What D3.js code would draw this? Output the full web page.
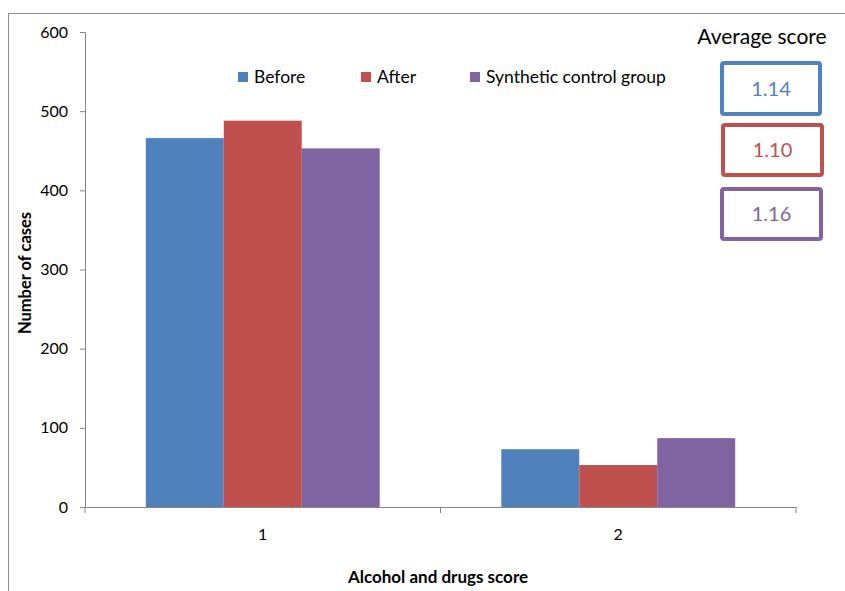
<!DOCTYPE html>
<html><head><meta charset="utf-8">
<script src="https://cdn.jsdelivr.net/npm/d3@7"></script>
<style>body{margin:0;background:#fff}svg{display:block}text{font-family:Lato,"Open Sans",sans-serif}</style>
</head><body><svg id="c" width="845" height="591"></svg>
<script>
const categories = ["1", "2"];
const seriesNames = ["Before", "After", "Synthetic control group"];
const before = [466, 73];
const after = [488, 53];
const synthetic = [453, 87];
const yTicks = [0, 100, 200, 300, 400, 500, 600];
const averageScores = ["1.14", "1.10", "1.16"];
const colors = ["#4F81BD", "#C0504D", "#8064A2"];

const series = [before, after, synthetic];
const svg = d3.select("#c");
// outer frame
svg.append("rect").attr("x", 8.5).attr("y", 13.5).attr("width", 850).attr("height", 600)
  .attr("fill", "none").attr("stroke", "#8c8c8c").attr("stroke-width", 1);

const x0 = d3.scaleBand().domain(categories).range([85, 796]).paddingInner(0).paddingOuter(0);
const x1 = d3.scaleBand().domain(seriesNames).range([0, x0.bandwidth()]).paddingInner(0).paddingOuter(0.78);
const y = d3.scaleLinear().domain([0, 600]).range([507, 32]);

// bars
seriesNames.forEach((s, si) => {
  svg.append("g").selectAll("rect").data(categories).join("rect")
    .attr("x", (c) => x0(c) + x1(s))
    .attr("y", (c, i) => y(series[si][i]))
    .attr("width", x1.bandwidth())
    .attr("height", (c, i) => y(0) - y(series[si][i]))
    .attr("fill", colors[si]);
});

// y axis
const ya = svg.append("g").attr("transform", "translate(85,0)")
  .call(d3.axisLeft(y).tickValues(yTicks).tickSize(5).tickPadding(12));
ya.select(".domain").attr("stroke", "#868686");
ya.selectAll(".tick line").attr("stroke", "#868686");
ya.selectAll(".tick text").attr("font-size", 16).attr("fill", "#000").attr("font-family", "Lato, 'Open Sans', sans-serif");

// x axis
const xa = svg.append("g").attr("transform", "translate(0,507)")
  .call(d3.axisBottom(x0).tickSize(0).tickPadding(22));
xa.select(".domain").attr("stroke", "#868686");
xa.selectAll(".tick text").attr("font-size", 16).attr("fill", "#000").attr("font-family", "Lato, 'Open Sans', sans-serif");
// category separator ticks
const sepTicks = [85, x0("2"), 796];
svg.append("g").selectAll("line").data(sepTicks).join("line")
  .attr("x1", (d) => d).attr("x2", (d) => d).attr("y1", 507).attr("y2", 513)
  .attr("stroke", "#868686");

// axis titles
svg.append("text").attr("x", 438).attr("y", 583).attr("text-anchor", "middle")
  .attr("font-size", 17).attr("font-weight", "bold").text("Alcohol and drugs score");
svg.append("text").attr("transform", "translate(31,273) rotate(-90)").attr("text-anchor", "middle")
  .attr("font-size", 16.5).attr("font-weight", "bold").text("Number of cases");

// legend
const legendX = [238, 361, 470];
const lg = svg.append("g");
seriesNames.forEach((s, i) => {
  lg.append("rect").attr("x", legendX[i]).attr("y", 72).attr("width", 10).attr("height", 10).attr("fill", colors[i]);
  lg.append("text").attr("x", legendX[i] + 16).attr("y", 83).attr("font-size", 17.5).text(s);
});

// average score
svg.append("text").attr("x", 762).attr("y", 44).attr("text-anchor", "middle").attr("font-size", 21).text("Average score");
const boxes = [{x: 722, y: 63, w: 98, h: 51}, {x: 723, y: 125, w: 99, h: 50}, {x: 722, y: 189, w: 99, h: 50}];
boxes.forEach((b, i) => {
  svg.append("rect").attr("x", b.x).attr("y", b.y).attr("width", b.w).attr("height", b.h).attr("rx", 2)
    .attr("fill", "#fff").attr("stroke", colors[i]).attr("stroke-width", 4);
  svg.append("text").attr("x", b.x + b.w / 2).attr("y", b.y + b.h / 2 + 7).attr("text-anchor", "middle")
    .attr("font-size", 20).attr("fill", colors[i]).text(averageScores[i]);
});
</script></body></html>
